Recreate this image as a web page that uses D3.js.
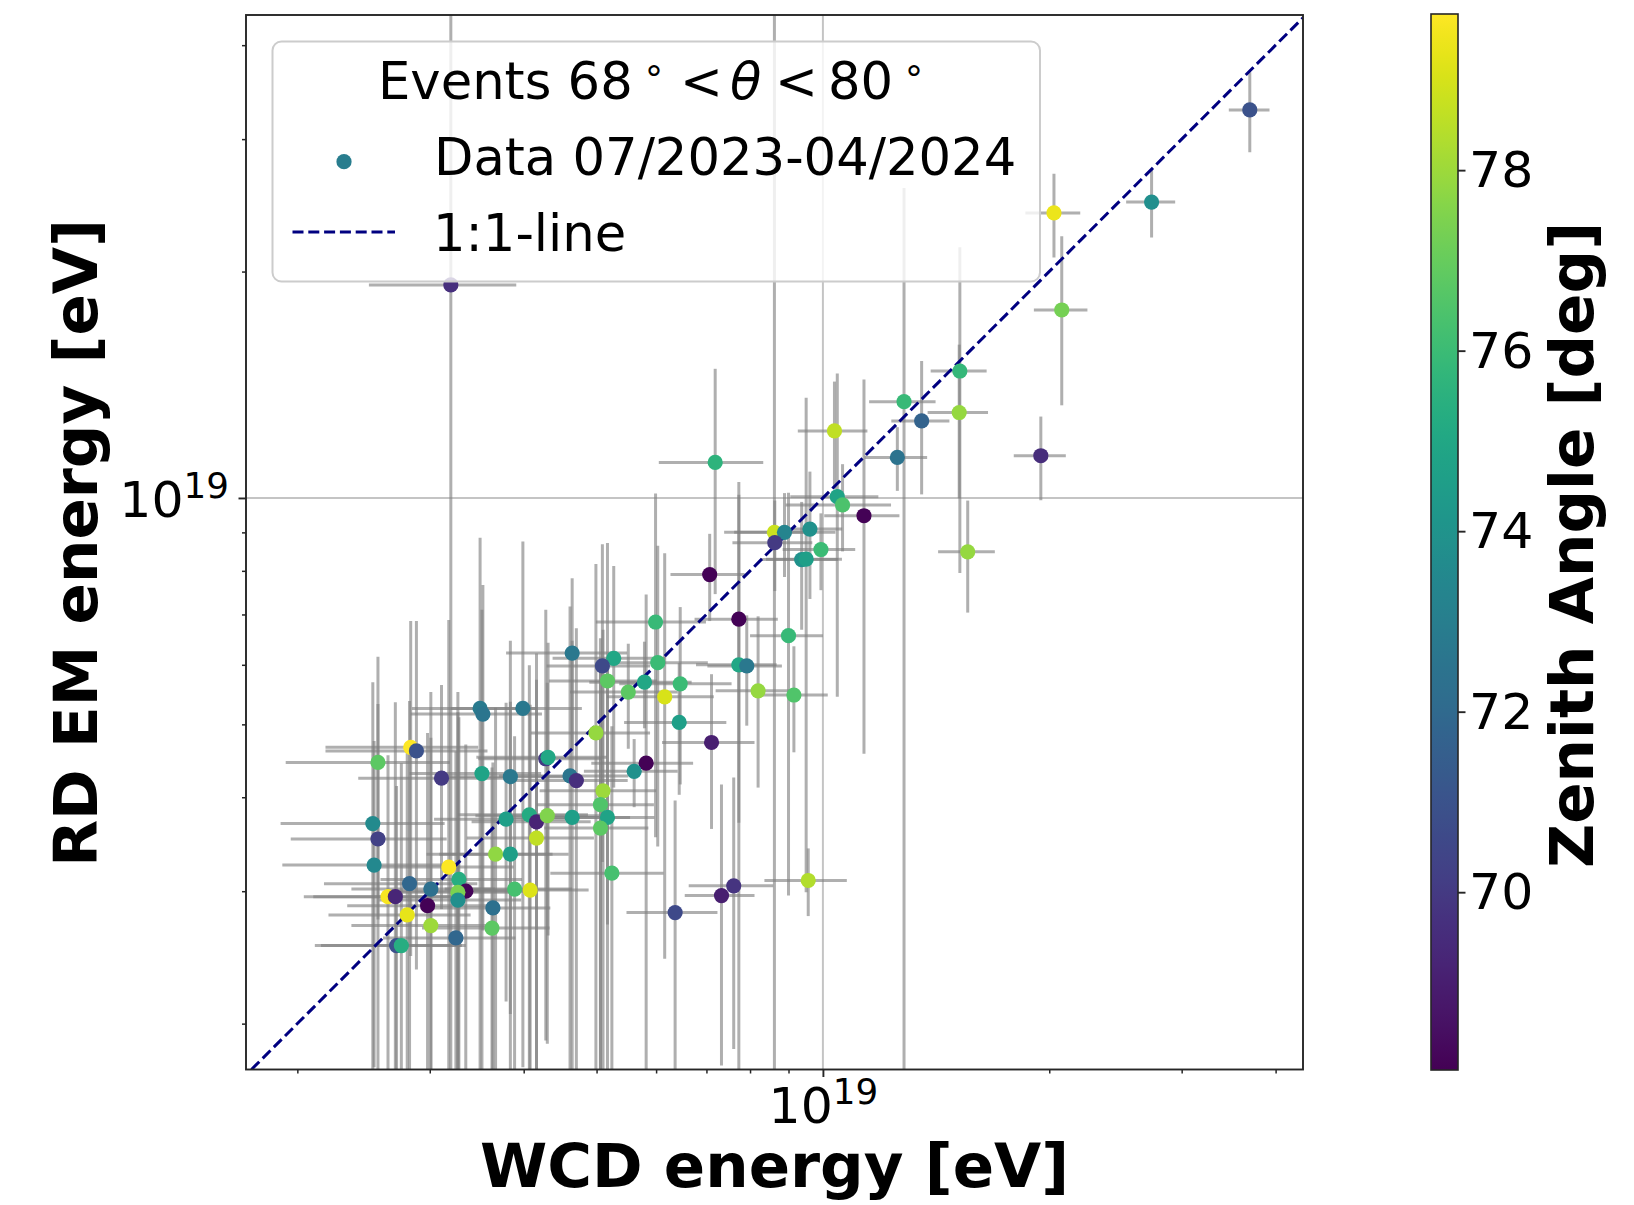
<!DOCTYPE html>
<html>
<head>
<meta charset="utf-8">
<script src="https://cdn.jsdelivr.net/npm/d3@7"></script>
<style>
  html, body { margin: 0; padding: 0; background: #fff; }
  svg text { font-family: "DejaVu Sans", sans-serif; }
</style>
</head>
<body>
<svg id="chart" width="1634" height="1205"></svg>
<script>
// ---- data: energies in EeV (1e18 eV), zenith angle in degrees ----
const wcdEnergy = [
  4.64,5.27,5.09,5.17,6.03,5.79,6.46,5.51,6.16,6.44,
  4.99,7.11,5.82,5.61,5.10,5.06,5.17,5.06,5.24,3.50,
  3.53,3.99,2.83,2.88,2.56,4.28,4.31,3.11,3.52,3.84,
  4.61,4.70,3.79,4.07,4.16,4.30,4.64,2.52,2.56,4.16,
  3.67,3.84,2.53,3.18,3.28,2.82,3.01,3.35,3.27,3.27,
  2.64,2.70,2.98,3.89,4.08,3.64,2.80,3.01,3.63,3.25,
  2.71,2.75,6.36,7.33,7.61,9.56,7.73,5.99,9.00,7.73,
  7.92,8.20,9.15,7.07,7.19,8.62,8.89,8.63,9.61,9.94,
  9.37,9.50,10.45,10.62,11.34,10.36,12.82,13.53,12.56,15.21,
  15.18,15.58,19.49,20.78,20.29,27.36,36.96,3.20
];
const wcdError = [
  0.85,0.90,0.80,0.85,1.00,0.90,1.10,0.90,1.00,1.00,
  0.90,1.00,0.90,0.80,0.90,0.90,0.80,0.80,0.90,0.66,
  0.70,0.79,0.65,0.70,0.63,0.80,0.85,0.70,0.70,0.75,
  0.90,0.80,0.75,0.80,0.75,0.85,0.90,0.62,0.60,0.80,
  0.70,0.75,0.62,0.70,0.70,0.65,0.65,0.70,0.65,0.70,
  0.60,0.60,0.65,0.75,0.80,0.70,0.60,0.65,0.70,0.65,
  0.60,0.60,0.88,0.78,0.98,1.20,0.98,1.00,1.00,0.95,
  0.90,1.00,1.00,0.80,1.14,1.00,1.50,1.05,1.00,1.10,
  1.10,1.10,1.40,1.70,1.30,1.10,1.30,1.20,1.20,1.30,
  1.40,1.35,1.55,1.70,1.70,2.05,2.30,0.71
];
const rdEnergy = [
  6.22,6.12,5.98,5.71,6.04,5.69,5.66,5.52,5.44,5.03,
  4.87,4.73,4.44,4.33,4.08,3.91,3.76,3.64,3.17,5.25,
  5.16,5.25,4.66,4.61,4.45,4.50,4.52,4.24,4.30,4.26,
  4.27,4.21,3.74,3.79,3.71,3.78,3.76,3.69,3.52,3.53,
  3.36,3.36,3.25,3.23,3.11,3.07,3.02,3.00,2.99,2.92,
  2.95,2.95,2.87,3.02,3.01,2.85,2.79,2.70,2.68,2.60,
  2.54,2.54,2.81,2.96,3.05,3.10,6.90,6.84,6.56,6.00,
  5.98,5.54,5.47,7.91,11.15,9.00,9.00,8.72,9.09,8.54,
  8.28,8.29,10.04,9.79,9.47,12.28,13.43,12.66,11.32,14.75,
  12.99,8.48,11.38,17.78,23.93,24.74,32.81,19.20
];
const rdError = [
  1.6,2.0,2.7,3.0,2.6,0.75,1.5,0.88,3.0,1.0,
  3.3,1.1,3.0,0.45,2.6,2.6,2.2,2.4,1.8,3.6,
  2.5,3.5,2.2,2.25,1.7,2.6,1.9,1.4,2.8,2.2,
  2.9,2.5,1.6,2.2,2.5,1.9,2.7,2.0,1.8,2.2,
  1.9,2.0,1.5,3.65,2.0,2.3,2.5,1.7,2.2,2.6,
  1.6,2.4,2.0,1.8,2.3,1.6,1.8,2.1,1.7,2.0,
  1.6,1.9,1.15,1.2,1.2,0.32,3.2,3.3,3.6,4.5,
  1.0,1.42,0.88,1.05,3.7,36.0,1.15,1.2,1.75,1.0,
  1.6,5.3,4.6,1.3,4.9,2.0,12.4,2.55,1.1,6.8,
  3.0,1.44,1.45,4.5,3.05,2.55,4.0,26.0
];
const zenithAngle = [
  72.7,75.0,70.6,76.8,76.0,75.0,76.0,76.8,79.0,74.6,
  77.9,69.0,68.1,73.9,78.0,76.5,74.8,76.8,76.3,72.8,
  72.6,72.7,79.7,71.0,76.8,70.0,75.0,70.0,74.8,72.7,
  72.6,69.6,74.6,75.2,69.2,77.5,74.6,73.6,70.3,78.6,
  77.8,74.6,73.5,79.7,75.3,71.9,72.3,68.2,77.4,73.8,
  79.6,69.3,68.1,76.3,79.1,72.3,79.3,78.0,76.8,71.9,
  70.9,75.3,70.6,69.0,69.8,78.4,68.1,75.9,75.9,75.0,
  72.7,77.9,76.5,68.1,75.6,78.8,73.3,70.0,73.9,76.0,
  74.0,74.6,74.8,76.4,68.1,78.6,75.9,71.7,72.5,75.8,
  77.9,77.9,69.5,77.3,79.4,73.8,71.0,69.6
];

// axis ranges and ticks (eV / degrees)
const wcdRange = [1.709e18, 4.35e19];
const rdRange = [1.738e18, 4.387e19];
const zenithRange = [68.03, 79.73];
const majorTicks = [1e19];
const minorTicks = [2e18,3e18,4e18,5e18,6e18,7e18,8e18,9e18,2e19,3e19,4e19];
const zenithTicks = [70, 72, 74, 76, 78];

const legendTitle = ["Events 68", "°", "<", "θ", "<", "80", "°"];
const legendEntries = ["Data 07/2023-04/2024", "1:1-line"];
const xLabel = "WCD energy [eV]";
const yLabel = "RD EM energy [eV]";
const cLabel = "Zenith Angle [deg]";

const EeV = 1e18;
const points = wcdEnergy.map((v, i) => ({
  x: v * EeV, xe: wcdError[i] * EeV,
  y: rdEnergy[i] * EeV, ye: rdError[i] * EeV,
  z: zenithAngle[i]
}));

// ---- layout ----
const plot = { left: 246, right: 1303, top: 15, bottom: 1069.5 };
const cbar = { left: 1431, right: 1458, top: 14, bottom: 1070 };
const axisColor = "#262626";
const tickFont = 50.5;
const legendFont = 51.2;
const labelFont = 61;
const dotRadius = 7.6;

const svg = d3.select("#chart");
const x = d3.scaleLog().domain(wcdRange).range([plot.left, plot.right]);
const y = d3.scaleLog().domain(rdRange).range([plot.bottom, plot.top]);
const color = d3.scaleSequential(d3.interpolateViridis).domain(zenithRange);

const defs = svg.append("defs");
defs.append("clipPath").attr("id", "plotArea").append("rect")
  .attr("x", plot.left).attr("y", plot.top)
  .attr("width", plot.right - plot.left).attr("height", plot.bottom - plot.top);

// grid at the major decade
const grid = svg.append("g").attr("clip-path", "url(#plotArea)")
  .attr("stroke", "#b0b0b0").attr("stroke-width", 2).attr("stroke-opacity", 0.75);
majorTicks.forEach(t => {
  grid.append("line").attr("x1", x(t)).attr("x2", x(t)).attr("y1", plot.top).attr("y2", plot.bottom);
  grid.append("line").attr("x1", plot.left).attr("x2", plot.right).attr("y1", y(t)).attr("y2", y(t));
});

// error bars
const bars = svg.append("g").attr("clip-path", "url(#plotArea)")
  .attr("stroke", "#808080").attr("stroke-opacity", 0.63).attr("stroke-width", 3);
points.forEach(p => {
  bars.append("line")
    .attr("x1", x(p.x - p.xe)).attr("x2", x(p.x + p.xe))
    .attr("y1", y(p.y)).attr("y2", y(p.y));
  const low = p.y - p.ye > 0 ? p.y - p.ye : rdRange[0] * 0.5;
  bars.append("line")
    .attr("x1", x(p.x)).attr("x2", x(p.x))
    .attr("y1", y(low)).attr("y2", y(p.y + p.ye));
});

// 1:1 reference line
const lo = Math.max(wcdRange[0], rdRange[0]);
const hi = Math.min(wcdRange[1], rdRange[1]);
svg.append("path").attr("clip-path", "url(#plotArea)")
  .datum([lo, hi])
  .attr("d", d3.line().x(d => x(d)).y(d => y(d)))
  .attr("fill", "none").attr("stroke", "#000080")
  .attr("stroke-width", 3).attr("stroke-dasharray", "11,4.8");

// events
svg.append("g").attr("clip-path", "url(#plotArea)")
  .selectAll("circle").data(points).join("circle")
  .attr("cx", d => x(d.x)).attr("cy", d => y(d.y)).attr("r", dotRadius)
  .attr("fill", d => color(d.z));

// axes
function styleTicks(g, width) {
  g.select(".domain").remove();
  g.selectAll(".tick line").attr("stroke", axisColor).attr("stroke-width", width);
}
function powerLabel(sel) {
  sel.each(function(d) {
    const t = d3.select(this).text(null);
    const e = Math.round(Math.log10(d));
    t.append("tspan").text("10");
    t.append("tspan").attr("dy", -19).attr("font-size", 35.7).text(e);
  });
}

svg.append("g").attr("transform", `translate(0,${plot.bottom})`)
  .call(d3.axisBottom(x).tickValues(minorTicks).tickSize(4).tickFormat(""))
  .call(g => styleTicks(g, 1.5));
svg.append("g").attr("transform", `translate(0,${plot.bottom})`)
  .call(d3.axisBottom(x).tickValues(majorTicks).tickSize(7.5).tickFormat(""))
  .call(g => styleTicks(g, 1.9))
  .call(g => g.selectAll(".tick text")
    .attr("y", 53.5).attr("dy", 0).attr("fill", "#000")
    .attr("font-size", tickFont).call(powerLabel));

svg.append("g").attr("transform", `translate(${plot.left},0)`)
  .call(d3.axisLeft(y).tickValues(minorTicks).tickSize(4).tickFormat(""))
  .call(g => styleTicks(g, 1.5));
svg.append("g").attr("transform", `translate(${plot.left},0)`)
  .call(d3.axisLeft(y).tickValues(majorTicks).tickSize(7.5).tickFormat(""))
  .call(g => styleTicks(g, 1.9))
  .call(g => g.selectAll(".tick text")
    .attr("x", -17).attr("dy", 19).attr("fill", "#000")
    .attr("font-size", tickFont).call(powerLabel));

// frame
svg.append("rect")
  .attr("x", plot.left).attr("y", plot.top)
  .attr("width", plot.right - plot.left).attr("height", plot.bottom - plot.top)
  .attr("fill", "none").attr("stroke", axisColor).attr("stroke-width", 1.9);

// axis labels
svg.append("text").attr("x", (plot.left + plot.right) / 2).attr("y", 1187)
  .attr("text-anchor", "middle").attr("font-size", labelFont).attr("font-weight", "bold")
  .text(xLabel);
svg.append("text").attr("transform", "translate(96.5,543) rotate(-90)")
  .attr("text-anchor", "middle").attr("font-size", labelFont).attr("font-weight", "bold")
  .text(yLabel);

// legend
const legend = svg.append("g");
legend.append("rect").attr("x", 272.5).attr("y", 41.5).attr("width", 767.5).attr("height", 240)
  .attr("rx", 9).attr("fill", "#fff").attr("fill-opacity", 0.8)
  .attr("stroke", "#cccccc").attr("stroke-width", 2);
const titleParts = [
  { t: legendTitle[0], x: 378, y: 98.5, size: legendFont },
  { t: legendTitle[1], x: 645, y: 90.5, size: 36 },
  { t: legendTitle[2], x: 680, y: 98.5, size: legendFont },
  { t: legendTitle[3], x: 730, y: 98.5, size: legendFont, italic: true },
  { t: legendTitle[4], x: 775, y: 98.5, size: legendFont },
  { t: legendTitle[5], x: 828, y: 98.5, size: legendFont },
  { t: legendTitle[6], x: 905, y: 90.5, size: 36 }
];
titleParts.forEach(p => {
  legend.append("text").attr("x", p.x).attr("y", p.y).attr("font-size", p.size)
    .attr("font-style", p.italic ? "italic" : "normal").text(p.t);
});
legend.append("circle").attr("cx", 344).attr("cy", 161.7).attr("r", dotRadius)
  .attr("fill", d3.interpolateViridis(0.42));
legend.append("text").attr("x", 434).attr("y", 175).attr("font-size", legendFont).text(legendEntries[0]);
legend.append("line").attr("x1", 292.5).attr("x2", 395).attr("y1", 232).attr("y2", 232)
  .attr("stroke", "#000080").attr("stroke-width", 3).attr("stroke-dasharray", "11,4.8");
legend.append("text").attr("x", 433).attr("y", 250.5).attr("font-size", legendFont).text(legendEntries[1]);

// colorbar
const cy = d3.scaleLinear().domain(zenithRange).range([cbar.bottom, cbar.top]);
const grad = defs.append("linearGradient").attr("id", "viridisBar")
  .attr("x1", 0).attr("y1", 1).attr("x2", 0).attr("y2", 0);
d3.range(0, 1.0001, 0.02).forEach(t => {
  grad.append("stop").attr("offset", t).attr("stop-color", d3.interpolateViridis(t));
});
svg.append("rect").attr("x", cbar.left).attr("y", cbar.top)
  .attr("width", cbar.right - cbar.left).attr("height", cbar.bottom - cbar.top)
  .attr("fill", "url(#viridisBar)").attr("stroke", axisColor).attr("stroke-width", 1.6);
svg.append("g").attr("transform", `translate(${cbar.right},0)`)
  .call(d3.axisRight(cy).tickValues(zenithTicks).tickSize(7.5).tickFormat(d3.format("d")))
  .call(g => styleTicks(g, 1.9))
  .call(g => g.selectAll(".tick text")
    .attr("x", 11).attr("dy", "0.33em").attr("fill", "#000").attr("font-size", tickFont));
svg.append("text").attr("transform", "translate(1593,545) rotate(-90)")
  .attr("text-anchor", "middle").attr("font-size", labelFont).attr("font-weight", "bold")
  .text(cLabel);
</script>
</body>
</html>
